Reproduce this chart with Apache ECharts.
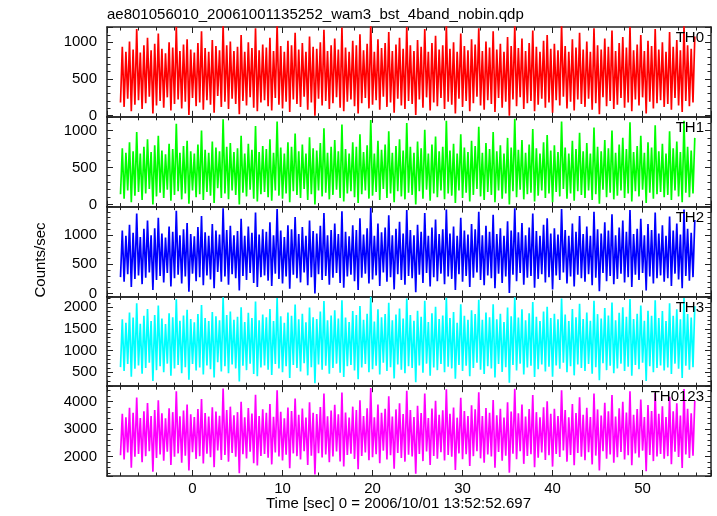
<!DOCTYPE html>
<html><head><meta charset="utf-8">
<script src="https://cdn.jsdelivr.net/npm/echarts@6/dist/echarts.min.js"></script>
<style>html,body{margin:0;padding:0;background:#fff}#c{width:717px;height:516px}</style>
</head><body><div id="c"></div>
<script>
// Count-rate light curves (counts/sec), alternating low / high readings every 0.2 s from t = -8 s
const th0 = [
180,940,120,870,230,1010,60,900,150,1180,210,860,90,960,170,1060,260,890,30,980,
140,1120,200,910,110,850,250,1000,70,930,160,1210,220,880,100,970,190,1040,10,900,
240,860,130,990,180,1150,80,920,210,870,150,1030,40,950,270,890,120,1230,190,960,
90,1010,230,880,160,940,20,1100,200,870,140,1000,250,920,110,1190,60,890,180,970,
210,930,130,1060,70,880,240,1240,150,950,100,870,190,1020,50,960,220,1130,160,900,
120,990,260,870,80,1080,180,940,0,910,230,1000,140,1170,200,880,90,960,170,1050,
250,900,110,1200,60,930,190,870,220,1020,130,960,30,1110,170,890,240,980,100,1250,
150,870,210,1040,80,920,260,990,120,1140,180,880,40,970,230,1060,140,910,90,1210,
200,960,160,880,10,1030,220,940,110,1180,250,870,70,990,180,1090,130,900,240,960,
90,1230,190,910,150,1000,30,870,230,1120,120,950,200,890,60,1040,170,970,260,1190,
140,880,80,1010,210,930,160,1150,50,900,240,980,110,870,190,1070,0,950,220,1220,
130,920,250,1050,90,880,170,990,200,1160,60,940,150,870,230,1020,110,1100,180,910,
40,980,210,890,140,1240,260,950,100,870,190,1040,70,930,220,1130,160,900,120,1010,
230,870,80,1190,170,960,20,900,250,1050,130,940,200,1160,90,880,150,990,240,1070,
110,930,180,1210,60,890,220,970,140,1100,250,880,30,1020,190,950,100,1180,170,900,
210,1000,120,870,160,1140,80,940,240,1030,140,890,50,1220,200,960,130,910,180,1080];
const th1 = [
140,760,80,700,190,840,30,720,120,980,170,690,60,780,150,880,210,710,0,800,
110,930,160,730,90,680,200,820,50,750,130,1090,180,700,70,790,150,860,10,720,
190,690,100,810,140,1000,60,740,170,700,120,850,20,770,220,720,90,1150,150,780,
70,830,190,710,130,760,0,930,160,690,110,820,200,740,80,1060,40,710,140,790,
170,750,100,880,50,700,190,1120,120,770,80,690,150,840,30,780,180,960,130,720,
90,810,210,690,60,910,140,760,0,730,190,830,110,1030,160,700,70,780,130,870,
200,720,90,1080,40,750,150,690,180,840,100,780,20,950,140,710,190,800,80,1140,
120,690,170,860,60,740,210,810,90,990,150,700,30,790,180,880,110,730,70,1100,
160,780,130,700,0,850,180,760,80,1010,200,690,50,810,150,920,100,720,190,780,
70,1130,150,730,120,820,20,690,190,950,90,770,160,710,40,860,130,790,210,1050,
110,700,60,830,170,750,130,980,30,720,190,800,80,690,150,900,0,770,180,1160,
100,740,200,870,70,700,140,810,160,1020,40,760,120,690,190,840,90,940,150,730,
30,800,170,710,110,1120,210,770,80,690,150,860,50,750,180,970,130,720,90,830,
190,690,60,1040,140,780,10,720,200,870,100,760,160,1000,70,700,120,810,190,900,
90,750,150,1110,40,710,180,790,110,930,200,700,20,840,160,770,80,1070,140,720,
170,820,100,690,130,990,60,760,190,850,110,710,30,1130,160,780,100,730,150,900];
const th2 = [
280,1080,200,990,330,1180,110,1040,250,1370,310,970,160,1110,270,1250,360,1000,60,1120,
230,1300,300,1030,190,960,350,1150,120,1060,260,1420,320,1000,170,1100,290,1210,30,1020,
340,980,210,1140,280,1330,140,1050,310,990,240,1190,90,1080,370,1010,200,1460,290,1090,
150,1160,330,1000,260,1070,50,1280,300,990,230,1150,350,1040,180,1390,110,1010,280,1100,
310,1060,220,1220,130,1000,340,1450,250,1080,170,970,290,1170,80,1100,320,1310,260,1020,
190,1140,360,990,140,1250,280,1070,0,1030,330,1160,230,1380,300,1000,150,1090,270,1200,
350,1020,180,1410,100,1060,290,980,320,1170,210,1090,60,1290,270,1010,340,1120,170,1470,
240,990,310,1200,130,1050,360,1130,200,1340,280,1000,70,1110,330,1230,230,1030,150,1430,
300,1090,260,1000,20,1180,320,1060,180,1380,350,990,120,1130,280,1270,210,1020,340,1100,
160,1440,290,1030,250,1150,60,990,330,1300,200,1080,300,1010,110,1190,270,1100,360,1400,
230,1000,140,1160,310,1060,260,1350,90,1020,340,1120,180,990,290,1240,10,1080,320,1460,
210,1050,350,1210,150,1000,270,1130,300,1370,100,1070,250,990,330,1180,190,1290,280,1030,
70,1120,310,1010,230,1450,360,1090,170,990,290,1200,120,1060,320,1330,260,1020,200,1150,
330,990,140,1400,270,1100,40,1030,350,1220,210,1080,300,1360,160,1000,250,1130,340,1250,
190,1060,280,1430,110,1020,320,1110,230,1280,350,1000,50,1190,290,1090,170,1390,260,1030,
310,1170,200,990,260,1320,130,1080,340,1200,240,1010,90,1440,300,1110,220,1040,280,1260];
const th3 = [
620,1720,530,1640,690,1880,400,1760,580,2090,660,1620,470,1800,600,1960,720,1680,300,1820,
550,2040,640,1740,500,1610,700,1860,420,1770,590,2180,670,1690,480,1810,620,1940,330,1730,
690,1650,540,1840,610,2050,450,1750,660,1680,570,1890,380,1790,730,1700,520,2230,640,1820,
480,1900,680,1710,590,1780,290,2000,650,1660,550,1870,700,1750,460,2130,410,1700,610,1830,
660,1770,560,1960,440,1680,690,2210,590,1790,500,1640,640,1880,370,1800,670,2060,600,1720,
520,1850,710,1650,430,1990,620,1770,250,1730,680,1900,560,2140,650,1700,470,1810,600,1930,
700,1740,490,2160,390,1760,640,1660,670,1910,540,1820,340,2030,610,1710,690,1850,500,2240,
570,1670,650,1950,450,1770,720,1840,530,2100,620,1700,360,1830,680,1970,560,1740,480,2200,
640,1820,600,1690,270,1920,660,1780,490,2150,700,1660,420,1860,610,2010,550,1730,690,1810,
500,2220,630,1750,590,1890,350,1640,670,2070,530,1800,650,1710,410,1930,600,1840,720,2170,
560,1710,460,1880,640,1770,590,2070,380,1720,690,1850,510,1660,620,1990,260,1790,670,2230,
540,1760,700,1950,450,1700,610,1860,650,2120,390,1780,570,1680,680,1900,520,2010,630,1750,
400,1850,660,1720,580,2200,720,1830,500,1680,640,1960,430,1770,680,2080,600,1730,530,1880,
690,1690,470,2150,620,1840,320,1740,710,1980,550,1810,650,2110,480,1700,590,1870,700,2000,
530,1780,630,2190,420,1730,670,1850,570,2040,720,1690,300,1920,640,1800,500,2160,600,1750,
660,1910,540,1680,610,2090,460,1800,700,1950,580,1720,370,2210,650,1840,560,1760,620,2020];
const th0123 = [
2050,3560,1900,3430,2150,3780,1600,3600,2000,4150,2100,3410,1800,3650,2020,3950,2200,3480,1450,3700,
1950,4050,2080,3580,1850,3400,2180,3760,1700,3620,2000,4380,2120,3470,1780,3680,2040,3900,1500,3540,
2160,3440,1920,3730,2020,4100,1750,3590,2110,3460,1980,3800,1620,3640,2230,3490,1880,4480,2060,3700,
1820,3820,2140,3510,2000,3620,1400,4000,2090,3430,1940,3770,2180,3570,1760,4250,1680,3480,2030,3720,
2100,3600,1960,3920,1720,3450,2150,4420,2010,3630,1860,3400,2070,3790,1580,3660,2120,4120,2020,3520,
1900,3750,2200,3420,1700,3980,2040,3600,1350,3550,2130,3810,1970,4300,2080,3470,1800,3680,2010,3890,
2190,3540,1830,4330,1640,3610,2060,3420,2110,3820,1920,3700,1540,4050,2030,3480,2150,3760,1870,4500,
1980,3430,2090,3900,1760,3600,2220,3740,1900,4200,2050,3460,1560,3720,2140,3940,1950,3550,1820,4400,
2070,3700,2010,3440,1380,3850,2100,3590,1840,4300,2190,3410,1700,3750,2030,4030,1930,3520,2160,3690,
1860,4450,2060,3560,2000,3790,1520,3420,2120,4140,1910,3660,2090,3480,1660,3870,2020,3720,2200,4340,
1940,3480,1780,3770,2080,3600,2010,4060,1600,3510,2170,3740,1850,3420,2040,3980,1420,3640,2110,4470,
1910,3580,2200,3900,1740,3460,2030,3730,2090,4240,1620,3620,1960,3430,2150,3800,1880,4020,2050,3560,
1640,3740,2100,3480,1990,4420,2230,3700,1820,3430,2060,3920,1690,3590,2140,4160,2000,3520,1870,3780,
2160,3440,1720,4300,2040,3720,1500,3500,2200,3960,1930,3650,2080,4240,1780,3460,1980,3760,2170,4000,
1900,3610,2050,4380,1690,3520,2120,3730,1970,4080,2220,3440,1470,3880,2060,3660,1840,4320,2010,3560,
2100,3830,1930,3440,2020,4180,1730,3650,2180,3940,1990,3500,1590,4460,2080,3740,1950,3580,2040,4040];
const timeStart = -8;
const timeStep = 0.2;
const panelNames = ['TH0', 'TH1', 'TH2', 'TH3', 'TH0123'];
const panelSeries = [th0, th1, th2, th3, th0123];
const titleText = 'ae801056010_20061001135252_wam3_bst_4band_nobin.qdp';
const xTitle = 'Time [sec] 0 = 2006/10/01 13:52:52.697';
const yTitle = 'Counts/sec';

// axis ranges / styles
const panelColors = ['#ff0000', '#00ff00', '#0000ff', '#00ffff', '#ff00ff'];
const yMins = [-15, -28, -50, 180, 1298];
const yMaxs = [1208, 1185, 1490, 2249, 4564];
const yMajor = [500, 500, 500, 500, 1000];
const xMin = -9.5, xMax = 57.6, xMajor = 10;

const FONT = 'Liberation Sans, Arial, Helvetica, sans-serif';
const frameColor = '#222';
const plotLeft = 107, plotRight = 711, plotTop = 27, plotBottom = 476;
const panelH = (plotBottom - plotTop) / 5;

const grids = [], xAxes = [], yAxes = [], series = [], graphics = [];
function isMult(v, m) { const r = Math.abs(v / m - Math.round(v / m)); return r < 1e-6; }

for (let i = 0; i < 5; i++) {
  grids.push({ left: plotLeft, width: plotRight - plotLeft, top: plotTop + i * panelH, height: panelH });
  const axLine = { show: true, onZero: false, lineStyle: { color: frameColor, width: 1.5 } };
  const tick = { show: true, inside: true, length: 6, lineStyle: { color: frameColor, width: 1 } };
  const minor = { show: true, splitNumber: 5, length: 3.5, lineStyle: { color: frameColor, width: 1 } };
  ['bottom', 'top'].forEach((pos, k) => {
    xAxes.push({
      type: 'value', gridIndex: i, position: pos, min: xMin, max: xMax,
      minInterval: xMajor, maxInterval: xMajor,
      axisLine: axLine, axisTick: tick, minorTick: minor,
      splitLine: { show: false }, minorSplitLine: { show: false },
      axisLabel: {
        show: (i === 4 && k === 0), margin: 5, color: '#000', fontSize: 15, fontFamily: FONT,
        showMinLabel: false, showMaxLabel: false,
        formatter: v => isMult(v, xMajor) ? String(Math.round(v)) : ''
      }
    });
  });
  ['left', 'right'].forEach((pos, k) => {
    yAxes.push({
      type: 'value', gridIndex: i, position: pos, min: yMins[i], max: yMaxs[i],
      minInterval: yMajor[i], maxInterval: yMajor[i],
      axisLine: axLine, axisTick: tick, minorTick: minor,
      splitLine: { show: false }, minorSplitLine: { show: false },
      axisLabel: {
        show: k === 0, margin: 10, color: '#000', fontSize: 15, fontFamily: FONT,
        showMinLabel: false, showMaxLabel: false,
        formatter: v => isMult(v, yMajor[i]) ? String(Math.round(v)) : ''
      }
    });
  });
  const vals = panelSeries[i];
  const data = vals.map((v, j) => [timeStart + j * timeStep, v]);
  series.push({
    type: 'line', name: panelNames[i], xAxisIndex: i * 2, yAxisIndex: i * 2,
    data: data, showSymbol: false, symbol: 'none', sampling: null,
    lineStyle: { color: panelColors[i], width: 1.7, join: 'bevel' },
    itemStyle: { color: panelColors[i] },
    silent: true, z: 1
  });
  graphics.push({
    type: 'text', x: 704, y: plotTop + i * panelH + 11, z: 100,
    style: { text: panelNames[i], fill: '#000', font: '15px ' + FONT,
      align: 'right', verticalAlign: 'middle', textAlign: 'right', textVerticalAlign: 'middle' }
  });
}
graphics.push({
  type: 'text', x: 107, y: 15, z: 100,
  style: { text: titleText, fill: '#000', font: '15px ' + FONT,
    align: 'left', verticalAlign: 'middle', textAlign: 'left', textVerticalAlign: 'middle' }
});
graphics.push({
  type: 'text', x: 398.5, y: 504, z: 100,
  style: { text: xTitle, fill: '#000', font: '15px ' + FONT,
    align: 'center', verticalAlign: 'middle', textAlign: 'center', textVerticalAlign: 'middle' }
});
graphics.push({
  type: 'text', x: 41, y: 260, rotation: Math.PI / 2, z: 100,
  style: { text: yTitle, fill: '#000', font: '15px ' + FONT,
    align: 'center', verticalAlign: 'middle', textAlign: 'center', textVerticalAlign: 'middle' }
});

const chart = echarts.init(document.getElementById('c'), null, { renderer: 'canvas' });
chart.setOption({
  animation: false,
  backgroundColor: '#fff',
  grid: grids, xAxis: xAxes, yAxis: yAxes, series: series,
  graphic: graphics
});
</script>
</body></html>
